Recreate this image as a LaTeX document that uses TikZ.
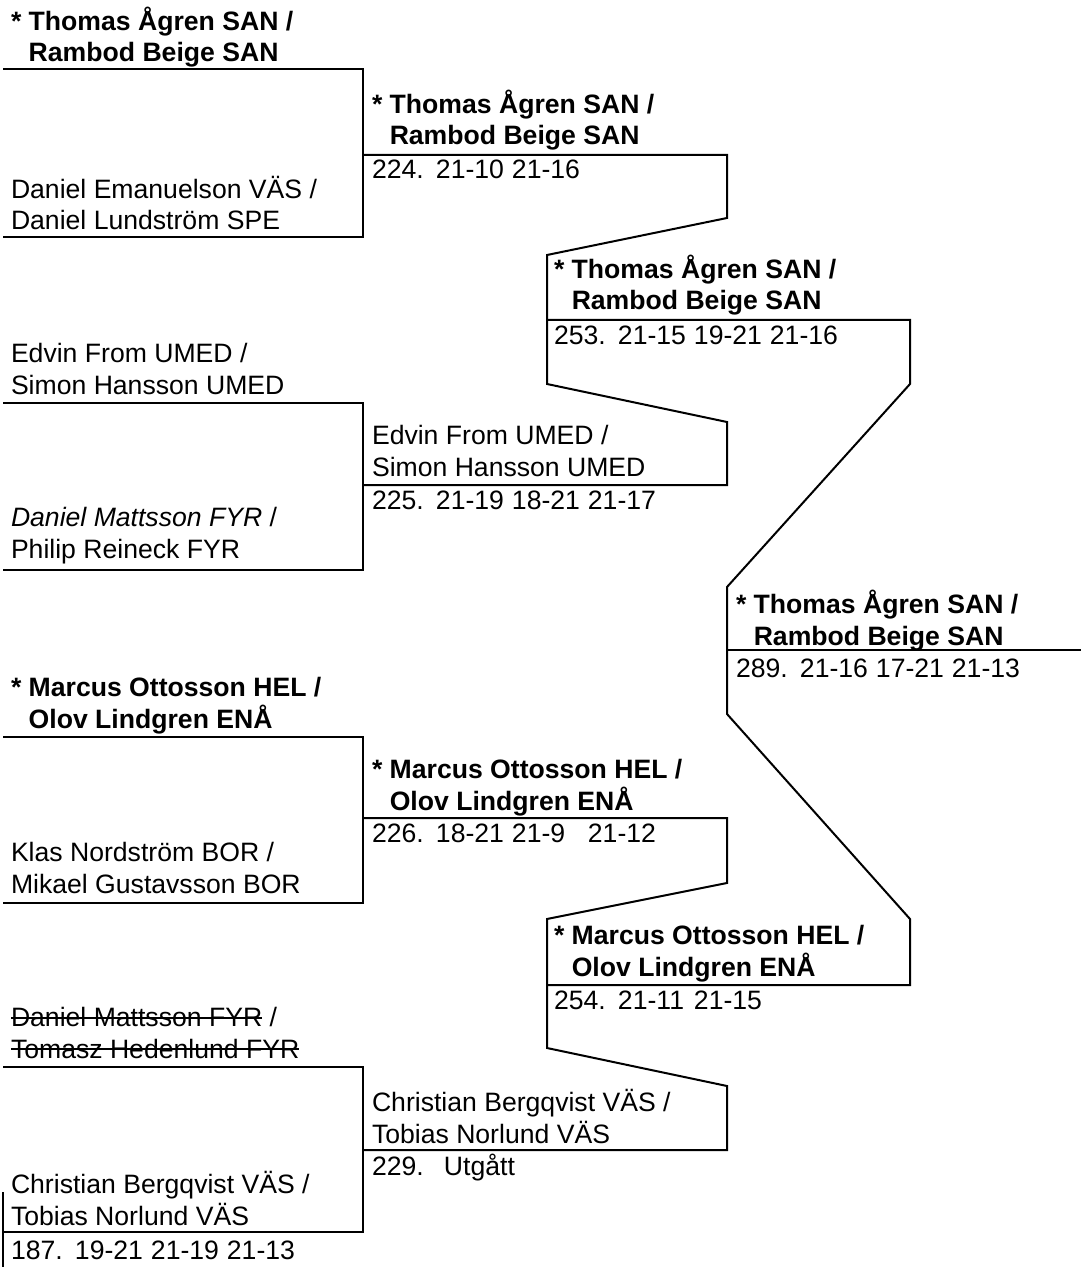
\documentclass[tikz,border=0pt]{standalone}
\usepackage{fontspec}
\setmainfont{Liberation Sans}
\newsavebox\strikebox
\newcommand\strike[1]{\sbox\strikebox{#1}\rlap{\rule[.3em]{\wd\strikebox}{1pt}}\usebox\strikebox}
\newcommand\res[1]{\makebox[32pt][l]{#1.}}
\newcommand\gm[1]{\makebox[38pt][l]{#1}}
\begin{document}
\begin{tikzpicture}[x=.5pt,y=-.5pt,line width=1pt,
	pair/.style={anchor=south west,inner sep=0pt,text depth=0pt,align=left,font=\fontsize{13.3}{15.75}\selectfont},
	score/.style={anchor=base west,inner sep=0pt,font=\fontsize{13.3}{15.75}\selectfont}]
	\useasboundingbox(0,0)rectangle(1081,1267);
	% first round
	\draw(3,69)--(363,69)--(363,237)--(3,237);
	\draw(3,403)--(363,403)--(363,570)--(3,570);
	\draw(3,737)--(363,737)--(363,903)--(3,903);
	\draw(3,1067)--(363,1067)--(363,1232)--(3,1232);
	\draw(3,1192)--(3,1267);
	% later rounds
	\draw(363,155)--(727,155)--(727,218)--(547,255)--(547,384)--(727,422)--(727,485)--(363,485);
	\draw(363,818)--(727,818)--(727,883)--(547,919)--(547,1048)--(727,1086)--(727,1150)--(363,1150);
	\draw(547,320)--(910,320)--(910,384)--(727,587)--(727,714)--(910,919)--(910,985)--(547,985);
	\draw[line width=.7pt](727,650)--(1081,650);
	% pairs, first round
	\node[pair](p1)at(10,63){\textbf{* Thomas Ågren SAN /}\\\hphantom{\textbf{* }}\textbf{Rambod Beige SAN}};
	\node[pair](p2)at(10,231){Daniel Emanuelson VÄS /\\Daniel Lundström SPE};
	\node[pair](p3)at(10,395){Edvin From UMED /\\Simon Hansson UMED};
	\node[pair](p4)at(10,559){\textit{Daniel Mattsson FYR} /\\Philip Reineck FYR};
	\node[pair](p5)at(10,729){\textbf{* Marcus Ottosson HEL /}\\\hphantom{\textbf{* }}\textbf{Olov Lindgren ENÅ}};
	\node[pair](p6)at(10,894){Klas Nordström BOR /\\Mikael Gustavsson BOR};
	\node[pair](p7)at(10,1059){\strike{Daniel Mattsson FYR} /\\\strike{Tomasz Hedenlund FYR}};
	\node[pair](p8)at(10,1226){Christian Bergqvist VÄS /\\Tobias Norlund VÄS};
	\node[score](s187)at(10,1259){\res{187}\gm{19-21}\gm{21-19}21-13};
	% winners
	\node[pair](w224)at(371,146){\textbf{* Thomas Ågren SAN /}\\\hphantom{\textbf{* }}\textbf{Rambod Beige SAN}};
	\node[score](s224)at(371,179){\res{224}\gm{21-10}21-16};
	\node[pair](w225)at(371,477){Edvin From UMED /\\Simon Hansson UMED};
	\node[score](s225)at(371,509){\res{225}\gm{21-19}\gm{18-21}21-17};
	\node[pair](w226)at(371,811){\textbf{* Marcus Ottosson HEL /}\\\hphantom{\textbf{* }}\textbf{Olov Lindgren ENÅ}};
	\node[score](s226)at(371,842){\res{226}\gm{18-21}\gm{21-9}21-12};
	\node[pair](w229)at(371,1144){Christian Bergqvist VÄS /\\Tobias Norlund VÄS};
	\node[score](s229)at(371,1175){\makebox[36pt][l]{229.}Utgått};
	\node[pair](w253)at(553,311){\textbf{* Thomas Ågren SAN /}\\\hphantom{\textbf{* }}\textbf{Rambod Beige SAN}};
	\node[score](s253)at(553,344){\res{253}\gm{21-15}\gm{19-21}21-16};
	\node[pair](w254)at(553,977){\textbf{* Marcus Ottosson HEL /}\\\hphantom{\textbf{* }}\textbf{Olov Lindgren ENÅ}};
	\node[score](s254)at(553,1009){\res{254}\gm{21-11}21-15};
	\node[pair](w289)at(735,646){\textbf{* Thomas Ågren SAN /}\\\hphantom{\textbf{* }}\textbf{Rambod Beige SAN}};
	\node[score](s289)at(735,677){\res{289}\gm{21-16}\gm{17-21}21-13};
\end{tikzpicture}
\end{document}
